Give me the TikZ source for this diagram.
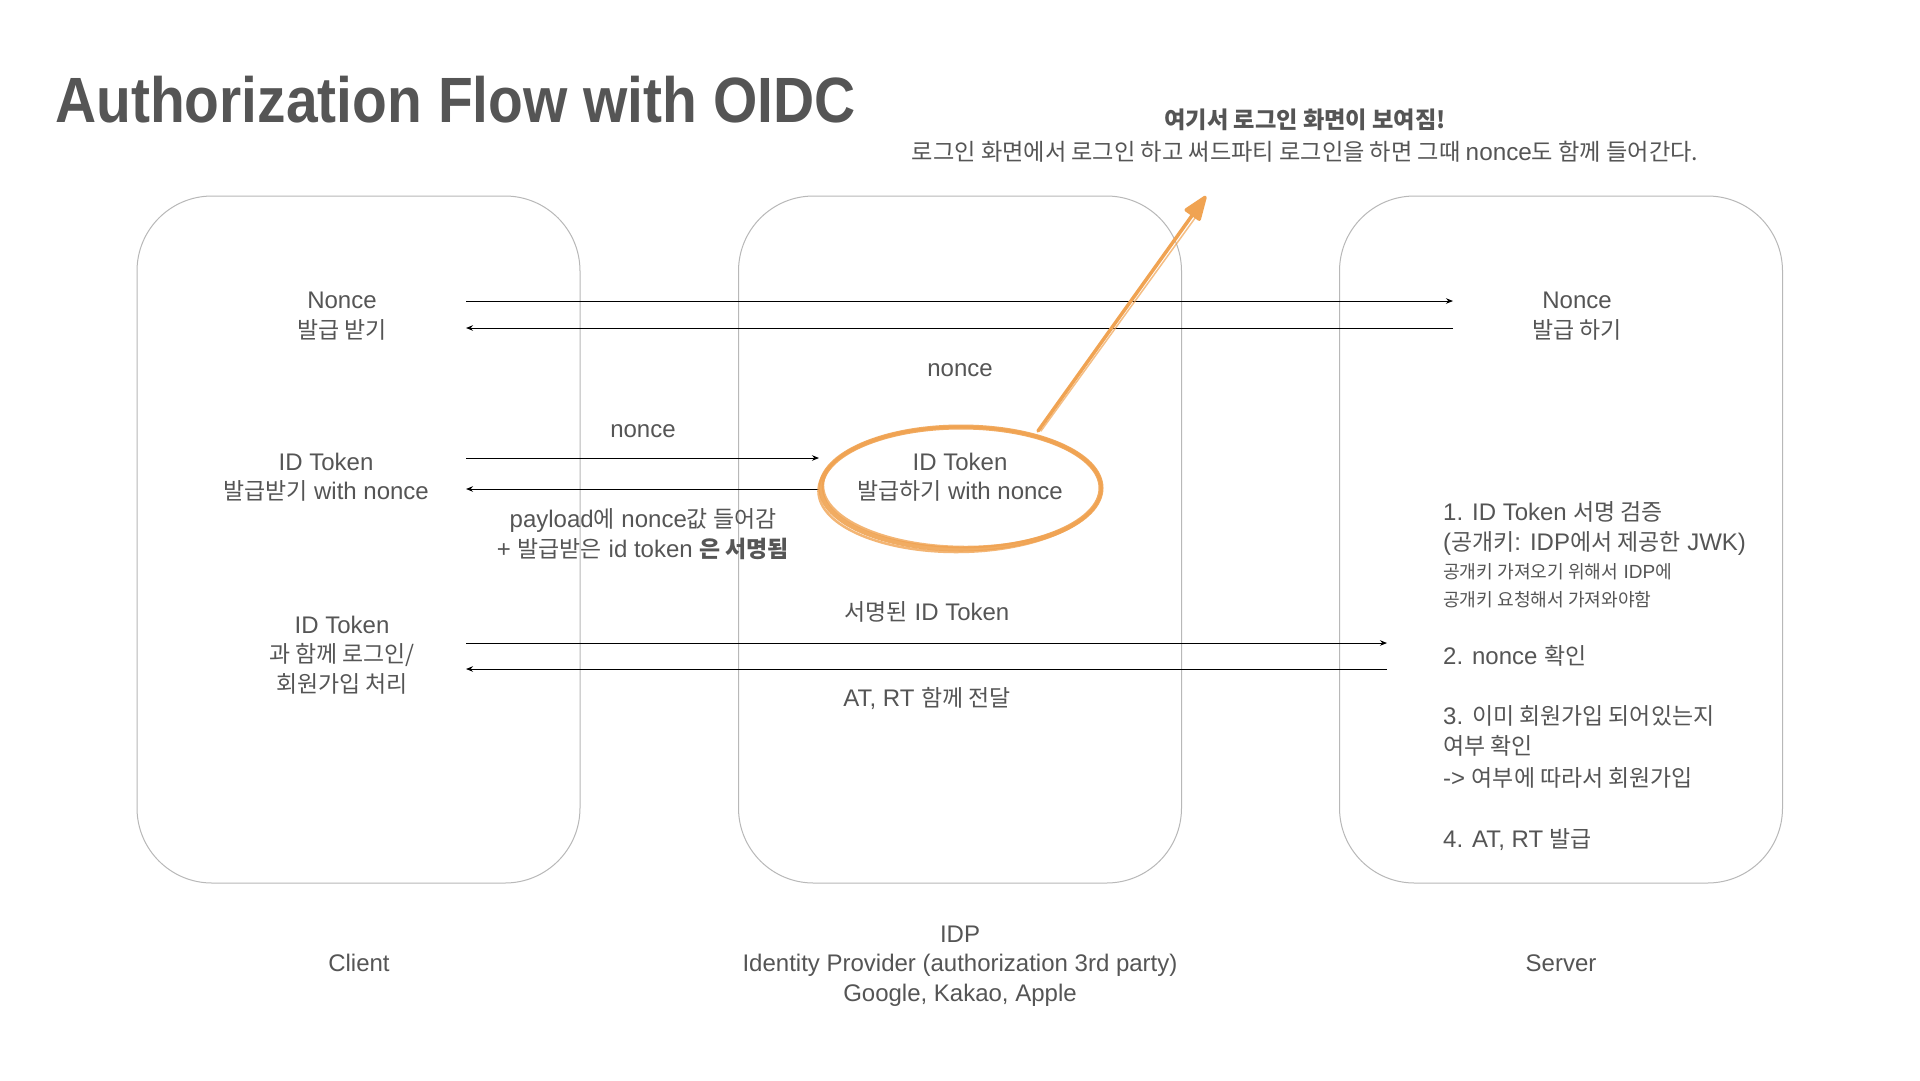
\documentclass[tikz,border=0pt]{standalone}
\usepackage{fontspec}
\setmainfont{Liberation Sans}
\newfontfamily\krf{Noto Sans CJK KR}[Scale=0.955]
\newcommand\K[1]{{\krf #1}}
\usetikzlibrary{arrows.meta,calc}
\definecolor{txt}{HTML}{555555}
\definecolor{boxc}{HTML}{B8B8B8}
\definecolor{orng}{HTML}{F0A352}
\begin{document}
\begin{tikzpicture}[x=1pt,y=-1pt,
  panel/.style={draw=boxc, line width=1pt, rounded corners=75pt, minimum width=443pt, minimum height=687pt, inner sep=0pt},
  lbl/.style={text=txt, font=\fontsize{24}{29.5}\selectfont, align=center, inner sep=0pt},
  item/.style={text=txt, font=\fontsize{24}{29.5}\selectfont, anchor=base west, inner sep=0pt},
  small/.style={text=txt, font=\fontsize{19}{22}\selectfont, anchor=base west, inner sep=0pt},
  msg/.style={draw=black, line width=1pt, -{Stealth[length=7pt,width=5.5pt]}},
  hand/.style={draw=orng, line width=3pt, line cap=round}
]
\useasboundingbox[fill=white] (0,0) rectangle (1920,1080);

% title
\node[anchor=base west, inner sep=0pt, text=txt, font=\fontsize{64}{70}\bfseries\selectfont] (title) at (55,122) {\scalebox{0.89}[1]{Authorization Flow with OIDC}};

% note at top
\node[anchor=base, inner sep=0pt, text=txt, font=\fontsize{24.3}{26}\selectfont] (note1) at (1305,128) {\K{\bfseries 여기서 로그인 화면이 보여짐!}};
\node[anchor=base, inner sep=0pt, text=txt, font=\fontsize{24.3}{26}\selectfont] (note2) at (1305,160) {\K{로그인 화면에서 로그인 하고 써드파티 로그인을 하면 그때 }nonce\K{도 함께 들어간다.}};

% panels
\node[panel] (client) at (358.5,539.5) {};
\node[panel] (idp) at (960,539.5) {};
\node[panel] (server) at (1561,539.5) {};

% client texts
\node[lbl] (cnonce) at (342,316) {Nonce\\\K{발급 받기}};
\node[lbl] (cid) at (326,477) {ID Token\\\K{발급받기} with nonce};
\node[lbl] (clogin) at (342,655) {ID Token\\\K{과 함께 로그인/}\\\K{회원가입 처리}};

% server texts
\node[lbl] (snonce) at (1577,316) {Nonce\\\K{발급 하기}};
\node[item] (s1) at (1443,520) {1. ID Token \K{서명 검증}};
\node[item] (s1b) at (1443,550) {(\K{공개키}: IDP\K{에서 제공한} JWK)};
\node[small] (s1c) at (1443,578) {\K{공개키 가져오기 위해서} IDP\K{에}};
\node[small] (s1d) at (1443,606) {\K{공개키 요청해서 가져와야함}};
\node[item] (s2) at (1443,664) {2. nonce \K{확인}};
\node[item] (s3) at (1443,724) {3. \K{이미 회원가입 되어있는지}};
\node[item] (s3b) at (1443,754) {\K{여부 확인}};
\node[item] (s3c) at (1443,786) {-> \K{여부에 따라서 회원가입}};
\node[item] (s4) at (1443,847) {4. AT, RT \K{발급}};

% IDP texts
\node[lbl] (inonce) at (960,370) {nonce};
\node[lbl] (iid) at (960,477) {ID Token\\\K{발급하기} with nonce};

% message labels
\node[lbl] (lnonce) at (643,431) {nonce};
\node[lbl, font=\fontsize{24}{30.5}\selectfont] (lpay) at (643,534) {payload\K{에} nonce\K{값 들어감}\\+ \K{발급받은} id token \K{\bfseries 은 서명됨}};
\node[lbl] (lsig) at (927,612) {\K{서명된} ID Token};
\node[lbl] (lat) at (927,698) {AT, RT \K{함께 전달}};

% bottom labels
\node[lbl] (bclient) at (359,963) {Client};
\node[lbl] (bidp) at (960,966) {IDP\\Identity Provider (authorization 3rd party)\\Google, Kakao, Apple};
\node[lbl] (bserver) at (1561,963) {Server};

% connector end points
\coordinate (c1) at (466,301); \coordinate (n1) at (1453,301);
\coordinate (c2) at (466,328); \coordinate (n2) at (1453,328);
\coordinate (c3) at (466,458); \coordinate (e3) at (819,458);
\coordinate (c4) at (466,489); \coordinate (e4) at (819,489);
\coordinate (c5) at (466,643); \coordinate (v5) at (1387,643);
\coordinate (c6) at (466,669); \coordinate (v6) at (1387,669);

\draw[msg] (c1) -- (n1);
\draw[msg] (n2) -- (c2);
\draw[msg] (c3) -- (e3);
\draw[msg] (e4) -- (c4);
\draw[msg] (c5) -- (v5);
\draw[msg] (v6) -- (c6);

% hand-drawn ellipse and arrow
\coordinate (ec) at (961,488);
\draw[hand, line width=5pt, opacity=0.9] (ec) ellipse [x radius=140pt, y radius=61pt];
\draw[hand, line width=2.5pt, opacity=0.8, rotate around={-0.8:(ec)}] ($(ec)+(1,-1)$) ellipse [x radius=139pt, y radius=60pt];
\draw[hand, line width=2.5pt, opacity=0.8, rotate around={0.8:(ec)}] ($(ec)+(-1,1.5)$) ellipse [x radius=141.5pt, y radius=62.5pt];
\coordinate (astart) at (1038,431);
\coordinate (atip) at (1206,196);
\draw[hand, line width=3.5pt, -{Triangle[length=28pt,width=20pt,round]}, fill=orng] (astart) -- (atip);
\draw[hand, line width=1.5pt, opacity=0.7] ($(astart)+(3,0)$) -- ($(atip)+(-8,18)$);
\end{tikzpicture}
\end{document}
